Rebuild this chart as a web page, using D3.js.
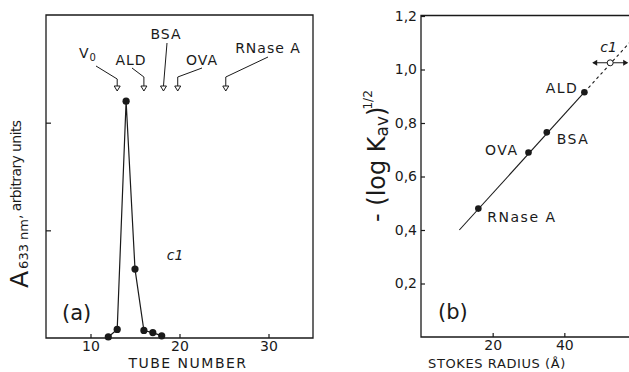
<!DOCTYPE html>
<html>
<head>
<meta charset="utf-8">
<script src="https://cdn.jsdelivr.net/npm/d3@7"></script>
<style>
  body { margin: 0; background: #fff; }
  svg { display: block; }
  text { font-family: "DejaVu Sans", sans-serif; fill: #1a1a1a; }
  .axis path { display: none; }
  .axis line { stroke: #1a1a1a; stroke-width: 1.2; }
  .axis text { font-size: 14px; }
</style>
</head>
<body>
<div id="chart"></div>
<script>
// panel (a): elution profile
var tubes = [12, 13, 14, 15, 16, 17, 18];
var absorb = [0.01, 0.08, 2.2, 0.64, 0.07, 0.05, 0.02];
var markerNames = ["V0", "ALD", "BSA", "OVA", "RNase A"];
var markerTubes = [13, 16, 18.2, 19.8, 25.2];
var aTicks = [10, 20, 30];

// panel (b): calibration
var proteins = ["RNase A", "OVA", "BSA", "ALD"];
var stokes = [16, 30, 35.1, 45.6];
var logKav = [0.48, 0.69, 0.765, 0.915];
var c1Radius = 52.8, c1Kav = 1.025;
var fitStart = [10.7, 0.40], fitEnd = [58.5, 1.105];
var bTicksX = [20, 40];
var bTicksY = [0.2, 0.4, 0.6, 0.8, 1.0, 1.2];

var W = 629, H = 372;
var ink = "#1a1a1a";
var svg = d3.select("#chart").append("svg").attr("width", W).attr("height", H);

// ---------- panel a ----------
var xa = d3.scaleLinear().domain([5, 35]).range([46, 313]);
var ya = d3.scaleLinear().domain([0, 3]).range([338, 15]);

svg.append("path")
  .attr("d", "M46,15H313V338H46Z")
  .attr("fill", "none").attr("stroke", ink).attr("stroke-width", 1.3);

svg.append("g").attr("class", "axis")
  .attr("transform", "translate(0,338)")
  .call(d3.axisBottom(xa).tickValues(aTicks).tickSizeInner(-4).tickSizeOuter(0).tickPadding(3));

svg.append("g").attr("class", "axis")
  .attr("transform", "translate(46,0)")
  .call(d3.axisLeft(ya).tickValues([1, 2]).tickSizeInner(-5).tickSizeOuter(0).tickFormat(""));

var ptsA = tubes.map(function(t, i) { return [t, absorb[i]]; });
svg.append("path")
  .datum(ptsA)
  .attr("fill", "none").attr("stroke", ink).attr("stroke-width", 1.2)
  .attr("d", d3.line().x(function(d) { return xa(d[0]); }).y(function(d) { return ya(d[1]); }));
svg.selectAll(".dota").data(ptsA).enter().append("circle")
  .attr("cx", function(d) { return xa(d[0]); })
  .attr("cy", function(d) { return ya(d[1]); })
  .attr("r", 3.6).attr("fill", ink);

// marker arrows with leader lines
var labelPos = [[88, 58, 96, 66, 79], [131, 65, 132, 68, 77], [166, 39, 167, 43, 86],
                [202, 65, 202, 68, 77], [268, 53, 268, 57, 77]];
markerTubes.forEach(function(t, i) {
  var x = xa(t), lp = labelPos[i];
  svg.append("path")
    .attr("d", "M" + lp[2] + "," + lp[3] + "L" + x + "," + lp[4] + "V86")
    .attr("fill", "none").attr("stroke", ink).attr("stroke-width", 1);
  svg.append("path")
    .attr("d", "M" + (x - 3) + ",86L" + (x + 3) + ",86L" + x + ",91Z")
    .attr("fill", "#fff").attr("stroke", ink).attr("stroke-width", 1);
  var tx = svg.append("text").attr("x", lp[0]).attr("y", lp[1])
    .attr("text-anchor", "middle").style("font-size", "14px").style("letter-spacing", "1px");
  if (markerNames[i] == "V0") {
    tx.append("tspan").text("V");
    tx.append("tspan").attr("dy", 3).style("font-size", "10px").text("0");
  } else {
    tx.text(markerNames[i]);
  }
});

svg.append("text").attr("x", 175).attr("y", 260).style("font-size", "14px")
  .style("font-style", "italic").attr("text-anchor", "middle").text("c1");
svg.append("text").attr("x", 62).attr("y", 320).style("font-size", "21px").text("(a)");
svg.append("text").attr("x", 188).attr("y", 368).attr("text-anchor", "middle")
  .style("font-size", "14px").style("letter-spacing", "1.5px").text("TUBE NUMBER");

var yla = svg.append("text").attr("transform", "translate(28,288) rotate(-90)");
yla.append("tspan").style("font-size", "25px").text("A");
yla.append("tspan").style("font-size", "13px").attr("dx", 2).text("633 nm");
yla.append("tspan").style("font-size", "14px").attr("dy", -7).attr("dx", 0)
  .style("letter-spacing", "-0.6px").text(", arbitrary units");

// ---------- panel b ----------
var xb = d3.scaleLinear().domain([0, 60]).range([421, 636]);
var yb = d3.scaleLinear().domain([0, 1.2]).range([337, 16]);

svg.append("path")
  .attr("d", "M" + W + ",15.5H421V337H" + W)
  .attr("fill", "none").attr("stroke", ink).attr("stroke-width", 1.3);

svg.append("g").attr("class", "axis")
  .attr("transform", "translate(0,337)")
  .call(d3.axisBottom(xb).tickValues(bTicksX).tickSizeInner(-4).tickSizeOuter(0).tickPadding(3));

svg.append("g").attr("class", "axis")
  .attr("transform", "translate(421,0)")
  .call(d3.axisLeft(yb).tickValues(bTicksY).tickSizeInner(-4).tickSizeOuter(0).tickPadding(4)
    .tickFormat(function(d) { return d3.format(".1f")(d).replace(".", ","); }));

// fitted line: solid through standards, dashed beyond
var lastStd = [stokes[3], logKav[3]];
svg.append("line")
  .attr("x1", xb(fitStart[0])).attr("y1", yb(fitStart[1]))
  .attr("x2", xb(lastStd[0])).attr("y2", yb(lastStd[1]))
  .attr("stroke", ink).attr("stroke-width", 1.1);
svg.append("line")
  .attr("x1", xb(lastStd[0])).attr("y1", yb(lastStd[1]))
  .attr("x2", xb(fitEnd[0])).attr("y2", yb(fitEnd[1]))
  .attr("stroke", ink).attr("stroke-width", 1.1).attr("stroke-dasharray", "3,3");

svg.selectAll(".dotb").data(stokes).enter().append("circle")
  .attr("cx", function(d) { return xb(d); })
  .attr("cy", function(d, i) { return yb(logKav[i]); })
  .attr("r", 3.3).attr("fill", ink);

var protOff = [[9, 13, "start"], [-10, 3, "end"], [10, 12, "start"], [-6, 1, "end"]];
proteins.forEach(function(p, i) {
  var o = protOff[i];
  svg.append("text")
    .attr("x", xb(stokes[i]) + o[0])
    .attr("y", yb(logKav[i]) + o[1])
    .attr("text-anchor", o[2]).style("font-size", "14px").style("letter-spacing", "1.5px")
    .text(p);
});

// c1 with double arrow
var cx = xb(c1Radius), cy = yb(c1Kav);
svg.append("line").attr("x1", cx - 17).attr("x2", cx + 17).attr("y1", cy).attr("y2", cy)
  .attr("stroke", ink).attr("stroke-width", 1.1);
svg.append("path").attr("d", "M" + (cx - 18) + "," + cy + "l5,-3v6Z").attr("fill", ink);
svg.append("path").attr("d", "M" + (cx + 18) + "," + cy + "l-5,-3v6Z").attr("fill", ink);
svg.append("circle").attr("cx", cx).attr("cy", cy).attr("r", 3)
  .attr("fill", "#fff").attr("stroke", ink).attr("stroke-width", 1);
svg.append("text").attr("x", cx - 10).attr("y", cy - 11).style("font-size", "14px")
  .style("font-style", "italic").text("c1");

svg.append("text").attr("x", 438).attr("y", 319).style("font-size", "21px").text("(b)");
svg.append("text").attr("x", 497).attr("y", 368).attr("text-anchor", "middle")
  .style("font-size", "13px").style("letter-spacing", "0.6px").text("STOKES RADIUS (Å)");

var ylb = svg.append("text").attr("transform", "translate(385,222) rotate(-90)");
ylb.append("tspan").style("font-size", "24px").text("- (log K");
ylb.append("tspan").style("font-size", "17px").attr("dy", 3).text("av");
ylb.append("tspan").style("font-size", "24px").attr("dy", -3).text(")");
ylb.append("tspan").style("font-size", "12px").attr("dy", -13).attr("dx", -3).text("1/2");
</script>
</body>
</html>
